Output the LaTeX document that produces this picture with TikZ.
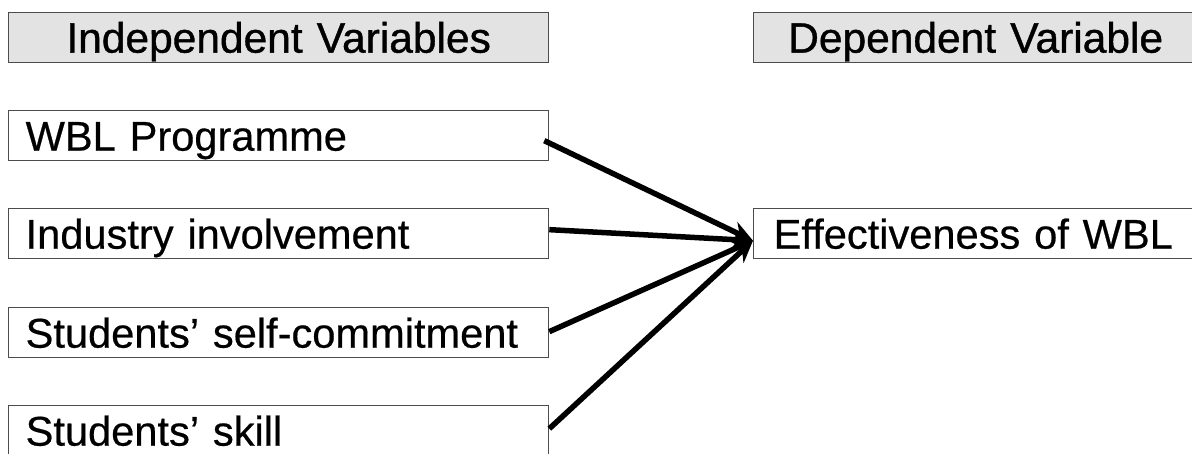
\documentclass[tikz,border=0pt]{standalone}
\usepackage{fontspec}
\setmainfont{Liberation Sans}[FakeBold=0.5]
\usepackage{tikz}
\usetikzlibrary{shapes.geometric, arrows.meta, positioning}
\tikzstyle{arrow} = [draw, -{Stealth[length=22pt, width=20pt]}, line width=5.5pt]
\tikzstyle{varbox} = [draw=black!70, line width=1.3pt, rectangle, text height=40pt, text depth=10pt, inner xsep=0pt, inner ysep=0pt, anchor=north west, font=\fontsize{41.6}{46}\selectfont\addfontfeatures{FakeBold=0.5}]
\tikzstyle{headbox} = [varbox, fill=black!11, align=center, font=\fontsize{42.5}{46}\selectfont\addfontfeatures{FakeBold=0.9}]

\begin{document}
\begin{tikzpicture}[x=1pt, y=-1pt]
	\useasboundingbox (0,0) rectangle (1192,453);
	\clip (0,0) rectangle (1192,453);
	
		% Titulos de las columnas
		\node[headbox, text width=540pt] (indep) at (8,12) {Independent Variables};
		\node[headbox, text width=444pt] (dep) at (753,12) {Dependent Variable};
		
		% Variables independientes
		\node[varbox, text width=540pt, align=left] (prog) at (8,110) {\hspace*{17pt}WBL Programme};
		\node[varbox, text width=540pt, align=left] (indus) at (8,208) {\hspace*{17pt}Industry involvement};
		\node[varbox, text width=540pt, align=left] (commit) at (8,307) {\hspace*{17pt}Students' self-commitment};
		\node[varbox, text width=540pt, align=left] (skill) at (8,405) {\hspace*{17pt}Students' skill};
		
		% Variable dependiente
		\node[varbox, text width=460pt, align=left] (effect) at (753,208) {\hspace*{20pt}Effectiveness of WBL};
		
		% Flechas hacia la variable dependiente
		\coordinate (target) at ([yshift=-7pt]effect.west);
		\draw[arrow] ([xshift=-5pt, yshift=-5pt]prog.east) -- (target);
		\draw[arrow] ([yshift=4pt]indus.east) -- (target);
		\draw[arrow] ([yshift=1pt]commit.east) -- (target);
		\draw[arrow] ([yshift=2pt]skill.east) -- (target);
	\end{tikzpicture}
\end{document}
